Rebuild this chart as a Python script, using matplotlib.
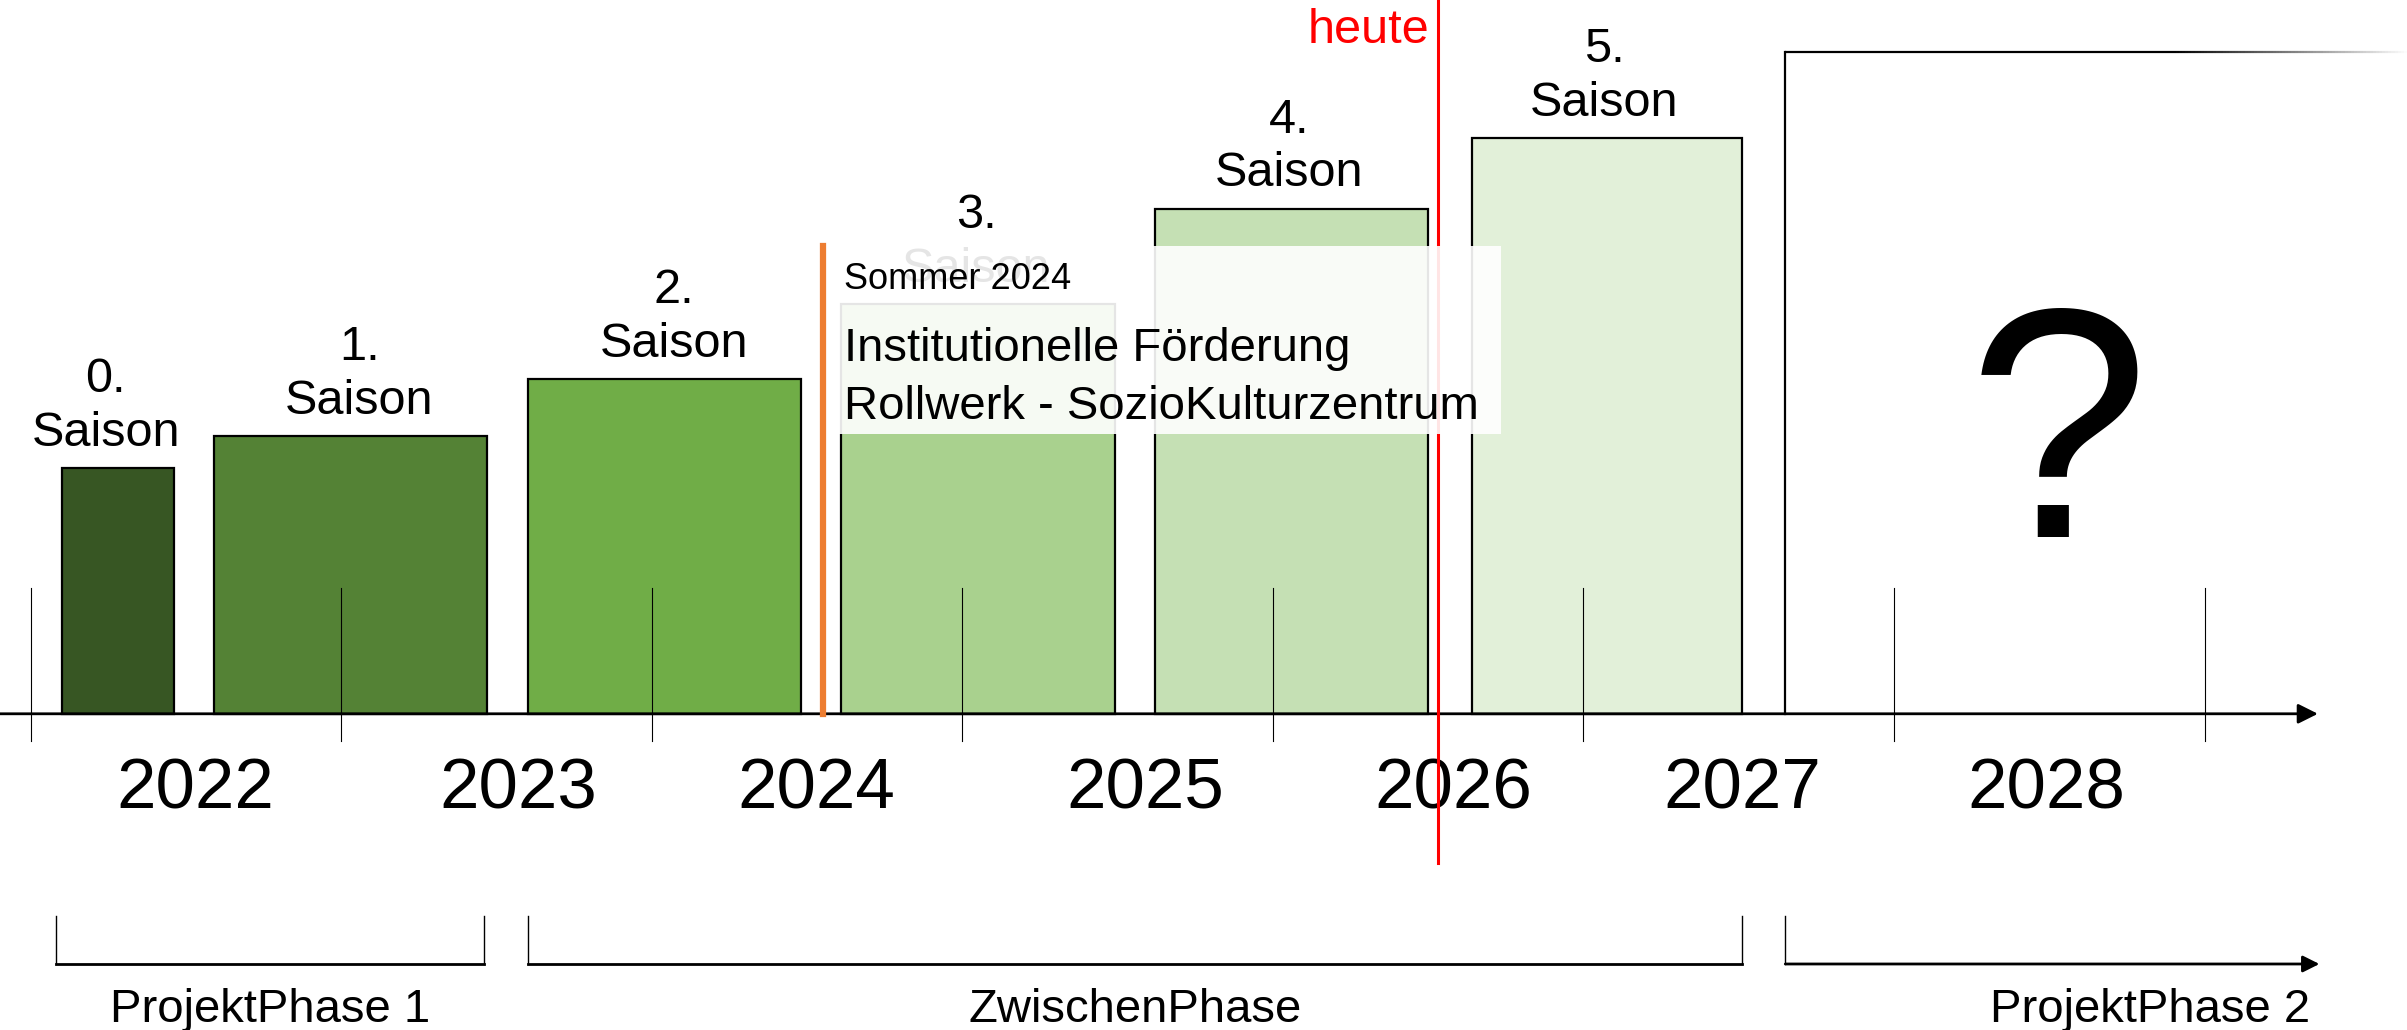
import matplotlib.pyplot as plt
import numpy as np
from matplotlib.patches import Rectangle
from matplotlib.collections import LineCollection

plt.rcParams['font.family'] = ['Liberation Sans', 'DejaVu Sans']

# -----------------------------
# Data (x in years, y in arbitrary height units)
# -----------------------------
season_labels = ["0.\nSaison", "1.\nSaison", "2.\nSaison", "3.\nSaison", "4.\nSaison", "5.\nSaison"]
season_start = [2022.10, 2022.59, 2023.60, 2024.61, 2025.62, 2026.64]
season_end = [2022.46, 2023.47, 2024.48, 2025.49, 2026.50, 2027.51]
season_height = [160, 181, 218, 267, 329, 375]
season_label_x = [2022.242, 2023.058, 2024.071, 2025.045, 2026.053, 2027.067]
season_colors = ["#375623", "#548235", "#70ad47", "#a9d18e", "#c5e0b4", "#e2f0d9"]

future_start = 2027.65
future_height = 431

year_ticks = [2022, 2023, 2024, 2025, 2026, 2027, 2028, 2029]
year_labels = ["2022", "2023", "2024", "2025", "2026", "2027", "2028"]
year_label_x = [2022.53, 2023.57, 2024.53, 2025.59, 2026.58, 2027.51, 2028.49]

phase_names = ["ProjektPhase 1", "ZwischenPhase", "ProjektPhase 2"]
phase_start = [2022.08, 2023.60, 2027.65]
phase_end = [2023.46, 2027.51, 2029.37]

heute_x = 2026.533
sommer_x = 2024.551

x_min, x_max = 2021.901, 2029.652
y_min, y_max = -206, 465

# -----------------------------
# Figure
# -----------------------------
fig = plt.figure(figsize=(24.07, 10.30), dpi=100)
ax = fig.add_axes([0, 0, 1, 1])
ax.set_xlim(x_min, x_max)
ax.set_ylim(y_min, y_max)
ax.axis("off")

# season bars
for s, e, h, c, lx, lab in zip(season_start, season_end, season_height, season_colors,
                               season_label_x, season_labels):
    ax.add_patch(Rectangle((s, 0), e - s, h, facecolor=c, edgecolor="black", lw=1.6, zorder=2))
    ax.text(lx, h + 8, lab, ha="center", va="bottom", fontsize=35, linespacing=1.25, zorder=2)

# future box with fading top edge
ax.add_patch(Rectangle((future_start, 0), x_max + 1 - future_start, future_height,
                       facecolor="white", edgecolor="none", zorder=2))
ax.plot([future_start, future_start], [0, future_height], color="black", lw=1.6, zorder=3)
xs = np.linspace(future_start, x_max, 200)
segs = [[(xs[i], future_height), (xs[i + 1], future_height)] for i in range(len(xs) - 1)]
fade = np.clip((x_max - xs[:-1]) / (x_max - 2028.9), 0, 1)
seg_colors = [(0, 0, 0, a) for a in fade]
ax.add_collection(LineCollection(segs, colors=seg_colors, lw=1.6, zorder=3))
ax.text(2028.53, 115, "?", ha="center", va="baseline", fontsize=235, zorder=4)

# time axis
ax.annotate("", xy=(2029.365, 0), xytext=(x_min, 0),
            arrowprops=dict(arrowstyle="-|>", color="black", lw=2, mutation_scale=30,
                            shrinkA=0, shrinkB=0), zorder=5)
for t in year_ticks:
    ax.plot([t, t], [-18, 82], color="black", lw=0.8, zorder=5)
for lx, lab in zip(year_label_x, year_labels):
    ax.text(lx, -62, lab, ha="center", va="baseline", fontsize=51)

# orange marker + info box
ax.plot([sommer_x, sommer_x], [0, 305], color="#ed7d31", lw=4.5, zorder=6)
ax.add_patch(Rectangle((2024.570, 182), 2026.735 - 2024.570, 123,
                       facecolor="white", edgecolor="none", alpha=0.9, zorder=7))
ax.text(2024.620, 277, "Sommer 2024", ha="left", va="baseline", fontsize=26, zorder=8)
ax.text(2024.620, 230, "Institutionelle Förderung", ha="left", va="baseline", fontsize=34, zorder=8)
ax.text(2024.620, 192, "Rollwerk - SozioKulturzentrum", ha="left", va="baseline", fontsize=34, zorder=8)

# today line
ax.plot([heute_x, heute_x], [-97, y_max], color="#ff0000", lw=2.2, zorder=6)
ax.text(heute_x - 0.03, 437, "heute", color="#ff0000", ha="right", va="baseline", fontsize=35)

# phase brackets
for i, (name, s, e) in enumerate(zip(phase_names, phase_start, phase_end)):
    if i < 2:
        ax.plot([s, s], [-132, -163], color="black", lw=1)
        ax.plot([e, e], [-132, -163], color="black", lw=1)
        ax.plot([s, e], [-163, -163], color="black", lw=2)
        ax.text((s + e) / 2, -201, name, ha="center", va="baseline", fontsize=34)
    else:
        ax.plot([s, s], [-132, -163], color="black", lw=1)
        ax.annotate("", xy=(e, -163), xytext=(s, -163),
                    arrowprops=dict(arrowstyle="-|>", color="black", lw=2, mutation_scale=25,
                                    shrinkA=0, shrinkB=0))
        ax.text(e - 0.03, -201, name, ha="right", va="baseline", fontsize=34)

fig.savefig("out.png", dpi=100, facecolor="white")
